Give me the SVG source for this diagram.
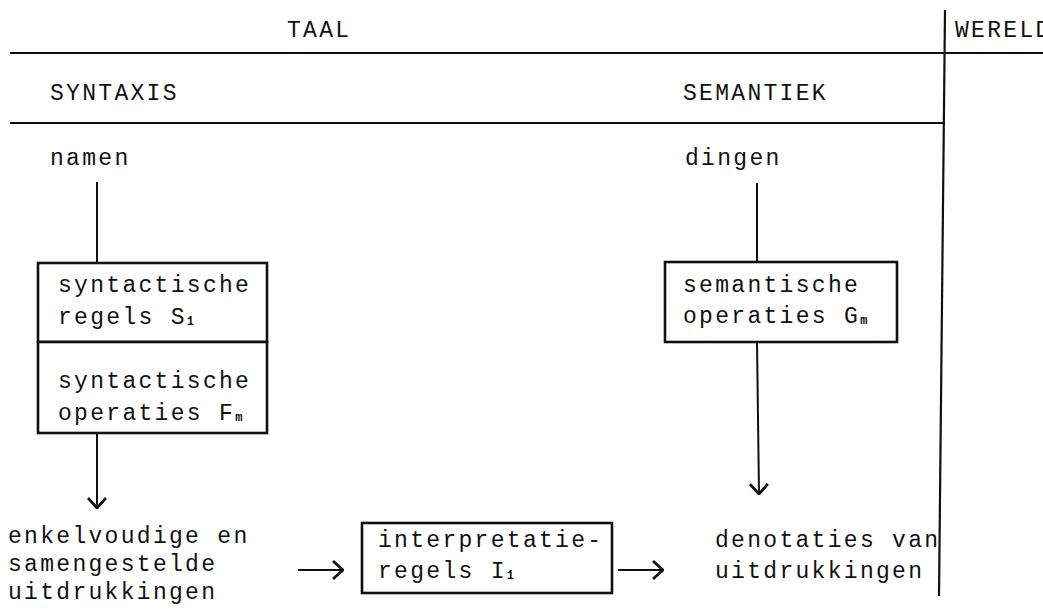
<svg xmlns="http://www.w3.org/2000/svg" width="1043" height="613" viewBox="0 0 1043 613">
  <style>
    .t { font-family: "Liberation Mono", "DejaVu Sans Mono", monospace; font-size: 23px; letter-spacing: 2.3px; fill: #111; }
    .sub { font-size: 12px; font-weight: bold; letter-spacing: 0; }
    .rule { stroke: #111; stroke-width: 2.2; fill: none; }
    .box { stroke: #111; stroke-width: 2.6; fill: #fff; }
    .edge { stroke: #111; stroke-width: 2; fill: none; }
    .head { stroke: #111; stroke-width: 2.8; fill: none; stroke-linejoin: miter; }
  </style>
  <defs>
    <marker id="arrow" viewBox="0 0 12 20" refX="11" refY="10" markerWidth="12" markerHeight="20" markerUnits="userSpaceOnUse" orient="auto">
      <path class="head" d="M1,1 L11,10 L1,19"/>
    </marker>
  </defs>
  <rect width="1043" height="613" fill="#fff"/>

  <!-- frame: column headings and dividing rules -->
  <g id="frame">
    <line class="rule" x1="10" y1="53" x2="1043" y2="53"/>
    <line class="rule" x1="10" y1="123" x2="945" y2="123"/>
    <line class="rule" x1="945" y1="10" x2="939" y2="596"/>
    <text class="t" x="287" y="37">TAAL</text>
    <text class="t" x="955" y="37">WERELD</text>
    <text class="t" x="50" y="100">SYNTAXIS</text>
    <text class="t" x="683" y="100">SEMANTIEK</text>
  </g>

  <g id="namen">
    <text class="t" x="50" y="165">namen</text>
  </g>

  <g id="dingen">
    <text class="t" x="685" y="165">dingen</text>
  </g>

  <g id="syntactische-regels">
    <rect class="box" x="38" y="263" width="229" height="79"/>
    <text class="t" x="58" y="292">syntactische</text>
    <text class="t" x="58" y="324">regels S<tspan class="sub" dy="1">1</tspan></text>
  </g>

  <g id="syntactische-operaties">
    <rect class="box" x="38" y="342" width="229" height="91"/>
    <text class="t" x="58" y="388">syntactische</text>
    <text class="t" x="58" y="420">operaties F<tspan class="sub" dy="1">m</tspan></text>
  </g>

  <g id="semantische-operaties">
    <rect class="box" x="665" y="262" width="232" height="80"/>
    <text class="t" x="683" y="292">semantische</text>
    <text class="t" x="683" y="323">operaties G<tspan class="sub" dy="1">m</tspan></text>
  </g>

  <g id="uitdrukkingen">
    <text class="t" x="8" y="543">enkelvoudige en</text>
    <text class="t" x="8" y="571">samengestelde</text>
    <text class="t" x="8" y="599">uitdrukkingen</text>
  </g>

  <g id="interpretatieregels">
    <rect class="box" x="362" y="523" width="250" height="70"/>
    <text class="t" x="378" y="547">interpretatie-</text>
    <text class="t" x="378" y="578">regels I<tspan class="sub" dy="1">1</tspan></text>
  </g>

  <g id="denotaties">
    <text class="t" x="715" y="547">denotaties van</text>
    <text class="t" x="715" y="578">uitdrukkingen</text>
  </g>

  <!-- connectors -->
  <g id="connectors">
    <line class="edge" x1="97" y1="182" x2="97" y2="263"/>
    <line class="edge" x1="97" y1="433" x2="97" y2="508" marker-end="url(#arrow)"/>
    <line class="edge" x1="757" y1="183" x2="757" y2="262"/>
    <line class="edge" x1="757" y1="342" x2="759" y2="494" marker-end="url(#arrow)"/>
    <line class="edge" x1="298" y1="570" x2="343" y2="570" marker-end="url(#arrow)"/>
    <line class="edge" x1="618" y1="570" x2="663" y2="570" marker-end="url(#arrow)"/>
  </g>
</svg>
